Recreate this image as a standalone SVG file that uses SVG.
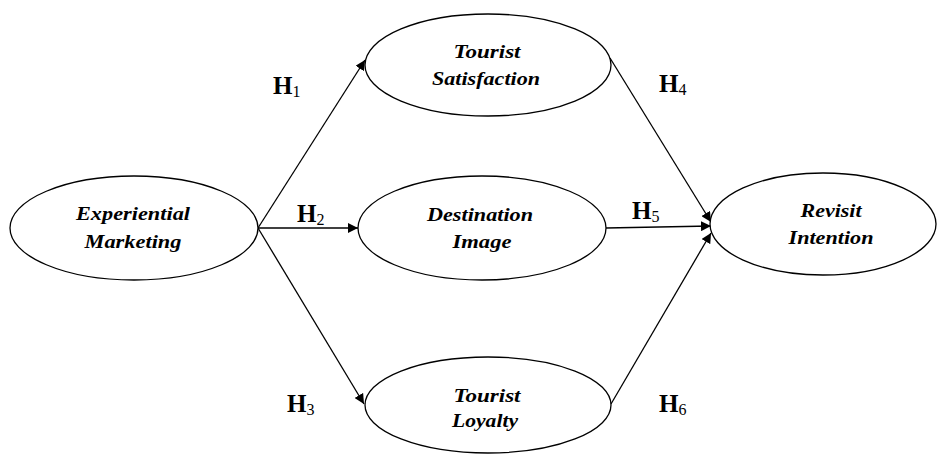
<svg xmlns="http://www.w3.org/2000/svg" width="946" height="454" viewBox="0 0 946 454">
<defs>
<marker id="arr" viewBox="0 0 10 10" refX="10" refY="5" markerWidth="10" markerHeight="10" markerUnits="userSpaceOnUse" orient="auto">
<path d="M0,0 L10,5 L0,10 Z" fill="#000"/>
</marker>
</defs>
<style>
.node ellipse{fill:#fff;stroke:#000;stroke-width:1.3}
.nt{font-family:"Liberation Serif","Times New Roman",serif;font-style:italic;font-weight:bold;font-size:18px;fill:#000;text-anchor:middle}
.lbl{font-family:"Liberation Serif","Times New Roman",serif;font-weight:bold;font-size:25px;fill:#000}
.sub{font-size:16px;font-weight:normal}
#connectors line{stroke:#000;stroke-width:1.3;marker-end:url(#arr)}
</style>
<rect width="946" height="454" fill="#fff"/>
<g id="connectors">
<line x1="258" y1="228" x2="365" y2="60"/>
<line x1="258" y1="228" x2="358" y2="228"/>
<line x1="258" y1="228" x2="364" y2="404"/>
<line x1="610" y1="58" x2="711" y2="222"/>
<line x1="606" y1="228" x2="711" y2="226"/>
<line x1="611" y1="404" x2="711" y2="233"/>
</g>
<g id="experiential-marketing" class="node">
<ellipse cx="134" cy="228" rx="124" ry="52"/>
<text class="nt" x="133" y="220" textLength="114" lengthAdjust="spacingAndGlyphs">Experiential</text>
<text class="nt" x="133" y="248" textLength="97" lengthAdjust="spacingAndGlyphs">Marketing</text>
</g>
<g id="tourist-satisfaction" class="node">
<ellipse cx="488" cy="65" rx="123" ry="51"/>
<text class="nt" x="487" y="58" textLength="67" lengthAdjust="spacingAndGlyphs">Tourist</text>
<text class="nt" x="486" y="85" textLength="108" lengthAdjust="spacingAndGlyphs">Satisfaction</text>
</g>
<g id="destination-image" class="node">
<ellipse cx="482" cy="228" rx="124" ry="52"/>
<text class="nt" x="480" y="221" textLength="106" lengthAdjust="spacingAndGlyphs">Destination</text>
<text class="nt" x="482" y="248" textLength="59" lengthAdjust="spacingAndGlyphs">Image</text>
</g>
<g id="tourist-loyalty" class="node">
<ellipse cx="488" cy="405" rx="123" ry="48"/>
<text class="nt" x="487" y="402" textLength="67" lengthAdjust="spacingAndGlyphs">Tourist</text>
<text class="nt" x="485" y="427" textLength="66" lengthAdjust="spacingAndGlyphs">Loyalty</text>
</g>
<g id="revisit-intention" class="node">
<ellipse cx="823" cy="224" rx="113" ry="51"/>
<text class="nt" x="831" y="217" textLength="61" lengthAdjust="spacingAndGlyphs">Revisit</text>
<text class="nt" x="831" y="244" textLength="85" lengthAdjust="spacingAndGlyphs">Intention</text>
</g>
<g id="labels">
<text class="lbl" x="273" y="94">H<tspan class="sub" dy="3">1</tspan></text>
<text class="lbl" x="297" y="222">H<tspan class="sub" dy="3">2</tspan></text>
<text class="lbl" x="287" y="412">H<tspan class="sub" dy="3">3</tspan></text>
<text class="lbl" x="659" y="92">H<tspan class="sub" dy="3">4</tspan></text>
<text class="lbl" x="632" y="219">H<tspan class="sub" dy="3">5</tspan></text>
<text class="lbl" x="659" y="412">H<tspan class="sub" dy="3">6</tspan></text>
</g>
</svg>
